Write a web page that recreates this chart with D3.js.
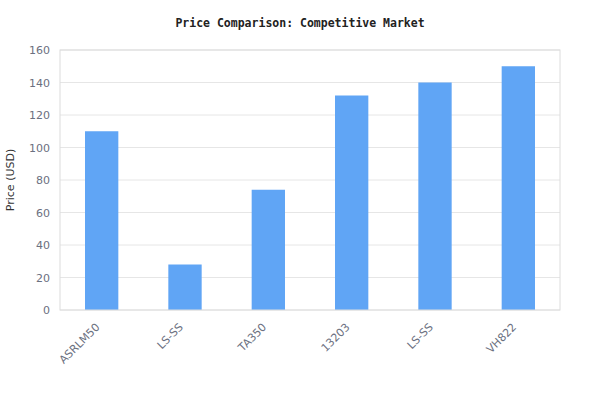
<!DOCTYPE html>
<html>
<head>
<meta charset="utf-8">
<script src="https://cdn.jsdelivr.net/npm/d3@7"></script>
<style>
  body { margin: 0; background: #fff; }
</style>
</head>
<body>
<script>
'use strict';

var width = 600,
    height = 420;

// chart data
var products = ["ASRLM50", "LS-SS", "TA350", "13203", "LS-SS", "VH822"];
var prices = [110, 28, 74, 132, 140, 150];
var yTicks = [0, 20, 40, 60, 80, 100, 120, 140, 160];

var margin = {top: 50, right: 40, bottom: 110, left: 60};
var innerW = width - margin.left - margin.right,
    innerH = height - margin.top - margin.bottom;

var svg = d3.select("body").append("svg")
    .attr("width", width)
    .attr("height", height);

svg.append("text")
    .attr("x", width / 2)
    .attr("y", 27)
    .attr("text-anchor", "middle")
    .style("font-family", "'DejaVu Sans Mono', monospace")
    .style("font-weight", "bold")
    .style("font-size", "11.5px")
    .style("fill", "#222")
    .text("Price Comparison: Competitive Market");

var g = svg.append("g")
    .attr("transform", "translate(" + margin.left + "," + margin.top + ")");

// band index used so repeated names stay separate
var x = d3.scaleBand()
    .domain(d3.range(products.length))
    .range([0, innerW])
    .paddingInner(0.6)
    .paddingOuter(0.3);

var y = d3.scaleLinear()
    .domain([0, 160])
    .range([innerH, 0]);

// grid
g.append("g")
    .selectAll("line")
    .data(yTicks)
    .enter().append("line")
        .attr("x1", 0)
        .attr("x2", innerW)
        .attr("y1", function(d) { return y(d); })
        .attr("y2", function(d) { return y(d); })
        .attr("stroke", "#e6e6e6")
        .attr("stroke-width", 1);

g.append("g")
    .selectAll("rect")
    .data(prices)
    .enter().append("rect")
        .attr("x", function(d, i) { return x(i); })
        .attr("width", x.bandwidth())
        .attr("y", function(d) { return y(d); })
        .attr("height", function(d) { return innerH - y(d); })
        .attr("fill", "#60a5f5");

// frame
g.append("rect")
    .attr("x", 0)
    .attr("y", 0)
    .attr("width", innerW)
    .attr("height", innerH)
    .attr("fill", "none")
    .attr("stroke", "#dcdcdc")
    .attr("stroke-width", 1);

var yAxis = g.append("g")
    .call(d3.axisLeft(y).tickValues(yTicks).tickSize(0).tickPadding(10));
yAxis.select(".domain").remove();
yAxis.selectAll("text")
    .style("font-family", "'DejaVu Sans', sans-serif")
    .style("font-size", "11px")
    .style("fill", "#6b7080");

var xAxis = g.append("g")
    .attr("transform", "translate(0," + innerH + ")")
    .call(d3.axisBottom(x).tickSize(0).tickFormat(function(i) { return products[i]; }));
xAxis.select(".domain").remove();
xAxis.selectAll("text")
    .attr("transform", "translate(-4,15) rotate(-45)")
    .attr("dy", "0.35em")
    .attr("y", 0)
    .style("text-anchor", "end")
    .style("font-family", "'DejaVu Sans', sans-serif")
    .style("font-size", "11px")
    .style("fill", "#6b7080");

svg.append("text")
    .attr("transform", "translate(14," + (margin.top + innerH / 2) + ") rotate(-90)")
    .attr("text-anchor", "middle")
    .style("font-family", "'DejaVu Sans', sans-serif")
    .style("font-size", "11px")
    .style("fill", "#333")
    .text("Price (USD)");
</script>
</body>
</html>
